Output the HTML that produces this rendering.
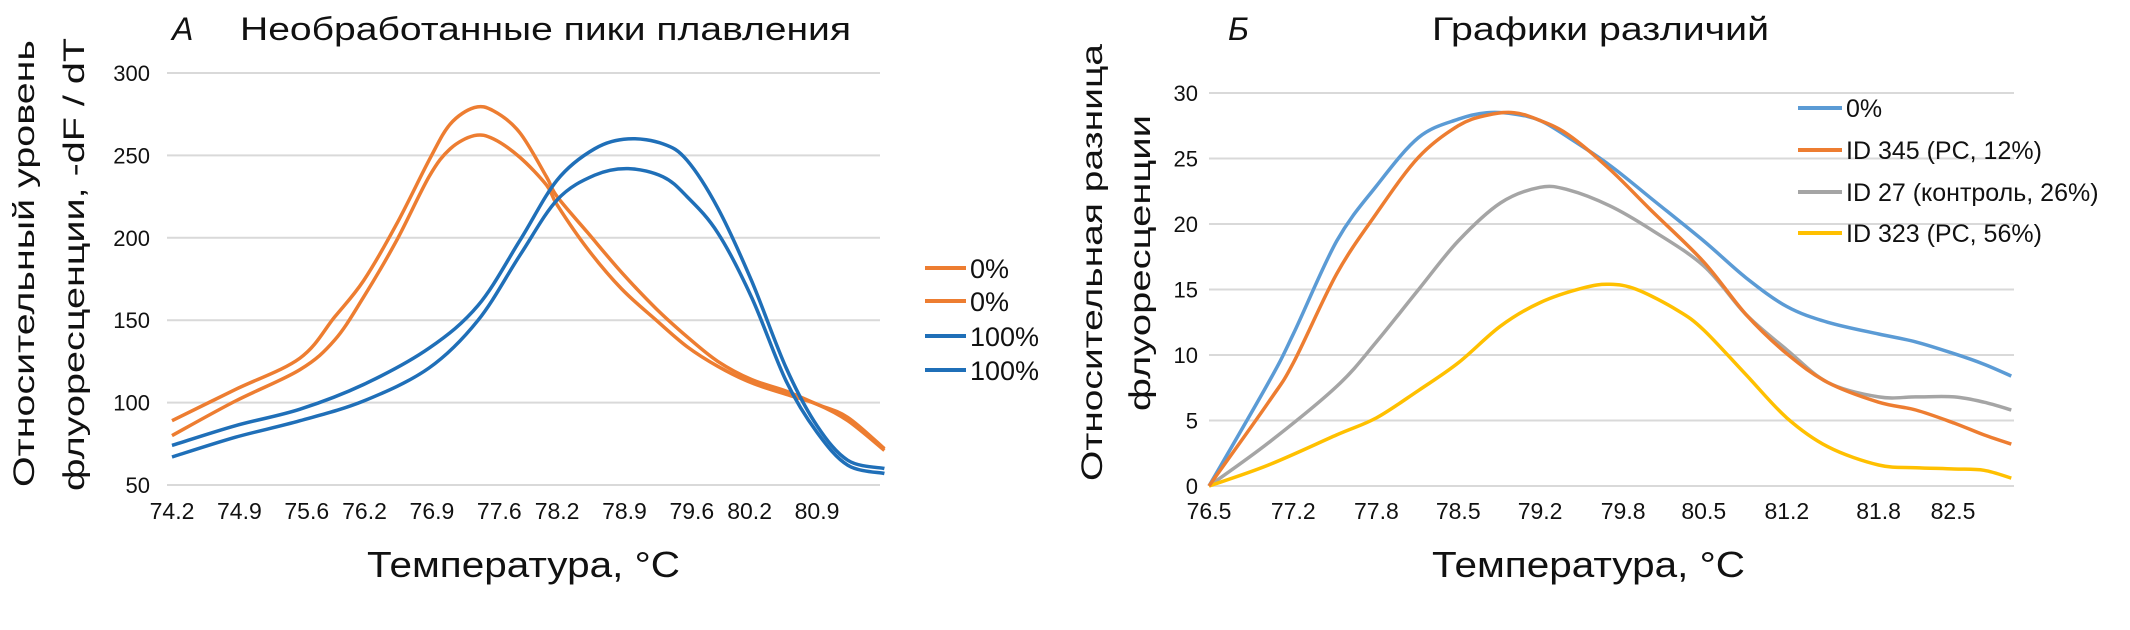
<!DOCTYPE html>
<html><head><meta charset="utf-8"><style>
html,body{margin:0;padding:0;background:#fff;}
svg{display:block;font-family:"Liberation Sans","DejaVu Sans",sans-serif;}
</style></head><body>
<svg id="chart" width="2130" height="630" viewBox="0 0 2130 630" xmlns="http://www.w3.org/2000/svg">
<g id="gA"></g>
<g id="gB"></g>
</svg>
<script>
// ---- Chart A data ----
const aYTicks = [50, 100, 150, 200, 250, 300];
const aXTickLabels = ["74.2","74.9","75.6","76.2","76.9","77.6","78.2","78.9","79.6","80.2","80.9"];
const aT = [74.2,74.86,75.53,75.89,76.19,76.53,76.87,77.09,77.34,77.54,77.81,78.09,78.2,78.52,78.87,79.23,79.55,79.87,80.22,80.58,80.9,81.22,81.6];
const aOrange1 = [89,108,127,152,174,208,247,269,279,277,264,237,225,203,179,157,140,125,114,107,99,91,72];
const aOrange2 = [80,101,120,138,164,198,237,254,262,260,249,232,220,193,169,150,134,122,112,105,99,89,71];
const aTB = [74.2,74.86,75.53,76.19,76.87,77.38,77.81,78.2,78.59,78.94,79.3,79.55,79.87,80.22,80.58,80.9,81.22,81.6];
const aBlue1 = [74,86,96,111,133,159,198,235,254,260,257,247,218,174,121,86,65,60];
const aBlue2 = [67,79,89,101,121,150,189,223,238,242,237,225,203,164,113,82,62,57];
const aLegend = ["0%","0%","100%","100%"];

// ---- Chart B data ----
const bYTicks = [0,5,10,15,20,25,30];
const bXTickLabels = ["76.5","77.2","77.8","78.5","79.2","79.8","80.5","81.2","81.8","82.5"];
const bXTickVals = [76.5,77.18,77.85,78.51,79.17,79.84,80.49,81.16,81.9,82.5];
const bT = [76.5,76.98,77.18,77.53,77.85,78.19,78.51,78.74,78.96,79.17,79.4,79.73,80.06,80.49,80.83,81.16,81.49,81.9,82.2,82.51,82.75,82.97];
const bBlue = [0,7.9,11.6,18.7,22.9,26.6,28.0,28.5,28.4,27.9,26.6,24.5,22.0,18.7,15.9,13.7,12.5,11.6,11.0,10.1,9.3,8.4];
const bOrange = [0,6.4,9.4,16.2,20.8,25.1,27.5,28.3,28.5,27.9,26.8,24.2,21.1,17.1,13.1,10.1,7.9,6.4,5.8,4.8,3.9,3.2];
const bGrayT = [76.5,76.98,77.53,77.85,78.19,78.51,78.85,79.17,79.4,79.73,80.06,80.49,80.83,81.16,81.49,81.9,82.2,82.51,82.75,82.97];
const bGray = [0,3.3,7.6,11.0,15.0,18.7,21.6,22.8,22.6,21.4,19.6,16.8,13.1,10.4,7.9,6.8,6.8,6.8,6.4,5.8];
const bYellowT = [76.5,76.98,77.53,77.85,78.19,78.51,78.85,79.17,79.51,79.73,79.95,80.28,80.49,80.83,81.16,81.49,81.9,82.2,82.51,82.75,82.97];
const bYellow = [0,1.6,3.9,5.2,7.3,9.4,12.2,14.0,15.1,15.4,15.0,13.4,11.9,8.5,5.2,3.0,1.6,1.4,1.3,1.2,0.6];
const bLegend = ["0%","ID 345 (PC, 12%)","ID 27 (контроль, 26%)","ID 323 (PC, 56%)"];

const NS = "http://www.w3.org/2000/svg";
function mk(parent, tag, attrs, text){
  const e = document.createElementNS(NS, tag);
  for (const k in attrs) e.setAttribute(k, attrs[k]);
  if (text !== undefined) e.textContent = text;
  parent.appendChild(e); return e;
}
function smoothPath(pts){
  let d = "M"+pts[0][0].toFixed(1)+","+pts[0][1].toFixed(1);
  for (let i=0;i<pts.length-1;i++){
    const p0=pts[i-1]||pts[i], p1=pts[i], p2=pts[i+1], p3=pts[i+2]||p2;
    const c1=[p1[0]+(p2[0]-p0[0])/6, p1[1]+(p2[1]-p0[1])/6];
    const c2=[p2[0]-(p3[0]-p1[0])/6, p2[1]-(p3[1]-p1[1])/6];
    d+=" C"+c1[0].toFixed(1)+","+c1[1].toFixed(1)+" "+c2[0].toFixed(1)+","+c2[1].toFixed(1)+" "+p2[0].toFixed(1)+","+p2[1].toFixed(1);
  }
  return d;
}

// ---- Chart A ----
const gA = document.getElementById("gA");
const axL = 167, axR = 880;
const ax = t => 172 + (t-74.2)/(80.9-74.2)*645;
const ay = v => 485 - (v-50)/250*412;
aYTicks.forEach(v=>{
  const l = mk(gA,"line",{x1:axL,x2:axR,y1:ay(v),y2:ay(v),stroke:"#d9d9d9","stroke-width":2});
  
  
  const t = mk(gA,"text",{x:150,y:ay(v)+8,"text-anchor":"end","font-size":22,fill:"#111"},String(v));
  
  
});
aXTickLabels.forEach(s=>{
  const t = mk(gA,"text",{x:ax(parseFloat(s)),y:519,"text-anchor":"middle","font-size":23,fill:"#111"},s);
  
  
});
[[aT,aOrange1,"#ED7D31"],[aT,aOrange2,"#ED7D31"],[aTB,aBlue1,"#1F6FB8"],[aTB,aBlue2,"#1F6FB8"]].forEach((s,i)=>{
  const pts = s[0].map((t,j)=>[ax(t),ay(s[1][j])]);
  const p = mk(gA,"path",{d:smoothPath(pts),fill:"none",stroke:s[2],"stroke-width":3.5,"stroke-linejoin":"round"});
  
  
});
const aLegColors = ["#ED7D31","#ED7D31","#1F6FB8","#1F6FB8"];
const aLegY = [268,301,336,370];
aLegend.forEach((s,i)=>{
  const l = mk(gA,"line",{x1:925,x2:966,y1:aLegY[i],y2:aLegY[i],stroke:aLegColors[i],"stroke-width":4});
  
  
  const t = mk(gA,"text",{x:970,y:aLegY[i]+10,"font-size":27,fill:"#111"},s);
  
  
});

// ---- Chart B ----
const gB = document.getElementById("gB");
const bxL = 1209, bxR = 2014;
const bx = t => 1209 + (t-76.5)/(82.5-76.5)*744;
const by = v => 486 - v/30*393;
bYTicks.forEach(v=>{
  const l = mk(gB,"line",{x1:bxL,x2:bxR,y1:by(v),y2:by(v),stroke:"#d9d9d9","stroke-width":2});
  
  
  const t = mk(gB,"text",{x:1198,y:by(v)+8,"text-anchor":"end","font-size":22,fill:"#111"},String(v));
  
  
});
bXTickLabels.forEach((s,i)=>{
  const t = mk(gB,"text",{x:bx(bXTickVals[i]),y:519,"text-anchor":"middle","font-size":23,fill:"#111"},s);
  
  
});
[[bT,bBlue,"#5B9BD5"],[bGrayT,bGray,"#A5A5A5"],[bYellowT,bYellow,"#FFC000"],[bT,bOrange,"#ED7D31"]].forEach((s,i)=>{
  const pts = s[0].map((t,j)=>[bx(t),by(s[1][j])]);
  const p = mk(gB,"path",{d:smoothPath(pts),fill:"none",stroke:s[2],"stroke-width":3.5,"stroke-linejoin":"round"});
  
  
});
const bLegColors = ["#5B9BD5","#ED7D31","#A5A5A5","#FFC000"];
const bLegY = [108,150,192,233];
bLegend.forEach((s,i)=>{
  const l = mk(gB,"line",{x1:1798,x2:1842,y1:bLegY[i],y2:bLegY[i],stroke:bLegColors[i],"stroke-width":4});
  
  
  const t = mk(gB,"text",{x:1846,y:bLegY[i]+9,"font-size":25,fill:"#111"},s);
  
  
});
</script>
<svg width="0" height="0" style="position:absolute"></svg>
<script>
// static titles (added to main svg)
(function(){
  const svg = document.getElementById("chart");
  const NS2 = "http://www.w3.org/2000/svg";
  function t(attrs, text, name){
    const e = document.createElementNS(NS2,"text");
    for (const k in attrs) e.setAttribute(k, attrs[k]);
    e.textContent = text;
    
    
    svg.appendChild(e);
  }
  t({x:172,y:40,"font-size":32,"font-style":"italic",fill:"#111"},"А","panel-label-a");
  t({x:240,y:40,"font-size":32,fill:"#111",textLength:611,lengthAdjust:"spacingAndGlyphs"},"Необработанные пики плавления","chart-a-title");
  t({x:1228,y:40,"font-size":32,"font-style":"italic",fill:"#111"},"Б","panel-label-b");
  t({x:1432,y:40,"font-size":32,fill:"#111",textLength:337,lengthAdjust:"spacingAndGlyphs"},"Графики различий","chart-b-title");
  t({x:367,y:577,"font-size":36,fill:"#111",textLength:313,lengthAdjust:"spacingAndGlyphs"},"Температура, °С","x-axis-title-a");
  t({x:1432,y:577,"font-size":36,fill:"#111",textLength:313,lengthAdjust:"spacingAndGlyphs"},"Температура, °С","x-axis-title-b");
  t({x:0,y:0,"font-size":30,fill:"#111",textLength:447,lengthAdjust:"spacingAndGlyphs",transform:"translate(34,487) rotate(-90)"},"Относительный уровень","y-axis-title-a-line1");
  t({x:0,y:0,"font-size":30,fill:"#111",textLength:453,lengthAdjust:"spacingAndGlyphs",transform:"translate(84,491) rotate(-90)"},"флуоресценции, -dF / dT","y-axis-title-a-line2");
  t({x:0,y:0,"font-size":30,fill:"#111",textLength:437,lengthAdjust:"spacingAndGlyphs",transform:"translate(1102,481) rotate(-90)"},"Относительная разница","y-axis-title-b-line1");
  t({x:0,y:0,"font-size":30,fill:"#111",textLength:296,lengthAdjust:"spacingAndGlyphs",transform:"translate(1150,411) rotate(-90)"},"флуоресценции","y-axis-title-b-line2");
})();
</script>
</body></html>
